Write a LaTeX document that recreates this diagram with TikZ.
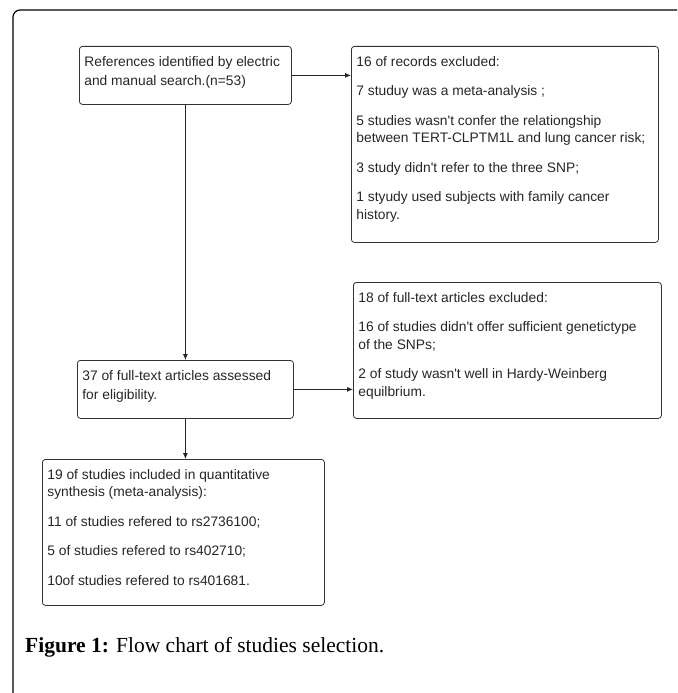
\documentclass[tikz,border=0pt]{standalone}
\usepackage{fontspec}
\setmainfont{Liberation Serif}
\newfontfamily\boxfamily{Liberation Sans}
\usetikzlibrary{arrows.meta}

\newcommand{\boxfont}{\boxfamily\fontsize{13.8}{17.5}\selectfont}
\newcommand{\boxtext}[3]{\parbox[t][#2][t]{#1}{\raggedright\rule{0pt}{20pt}#3}}

\tikzset{
    flowbox/.style={draw=black!80, line width=0.8pt, rounded corners=3pt, anchor=north west,
        inner xsep=5pt, inner ysep=0pt, font=\boxfont, text=black!85},
    flowarrow/.style={-{Latex[length=6pt,width=5pt]}, line width=0.8pt, black!85}
}

\begin{document}
\begin{tikzpicture}[x=1pt, y=-1pt]
    \useasboundingbox (0,0) rectangle (677,693);
    \clip (0,0) rectangle (677,693);

    \draw [line width=1.2pt, rounded corners=7pt] (13,720) -- (13,10) -- (700,10);

    \node [flowbox] (refs) at (79,46) {\boxtext{202pt}{58pt}{References identified by electric\\[2pt]
        and manual search.(n=53)}};
    \node [flowbox] (excl1) at (351,46) {\boxtext{297pt}{196pt}{16 of records excluded:\\[12pt]
        7 studuy was a meta-analysis ;\\[12pt]
        5 studies wasn't confer the relationgship\\
        between TERT-CLPTM1L and lung cancer risk;\\[12pt]
        3 study didn't refer to the three SNP;\\[12pt]
        1 styudy used subjects with family cancer\\
        history.}};
    \node [flowbox] (assess) at (77,360) {\boxtext{206pt}{58pt}{37 of full-text articles assessed\\[2pt]
        for eligibility.}};
    \node [flowbox] (excl2) at (353,282) {\boxtext{298pt}{136pt}{18 of full-text articles excluded:\\[12pt]
        16 of studies didn't offer sufficient genetictype\\
        of the SNPs;\\[12pt]
        2 of study wasn't well in Hardy-Weinberg\\
        equilbrium.}};
    \node [flowbox] (incl) at (42,459) {\boxtext{272pt}{146pt}{19 of studies included in quantitative\\
        synthesis (meta-analysis):\\[12pt]
        11 of studies refered to rs2736100;\\[12pt]
        5 of studies refered to rs402710;\\[12pt]
        10of studies refered to rs401681.}};

    \draw [flowarrow] (refs.east) -- (refs.east -| excl1.west);
    \draw [flowarrow] (refs.south) -- (assess.north);
    \draw [flowarrow] (assess.east) -- (assess.east -| excl2.west);
    \draw [flowarrow] (assess.south) -- (assess.south |- incl.north);

    \node [anchor=base west, inner sep=0pt, font=\fontsize{21.5}{25}\selectfont] (caption) at (25,652)
        {\textbf{Figure 1:} Flow chart of studies selection.};

\end{tikzpicture}
\end{document}
